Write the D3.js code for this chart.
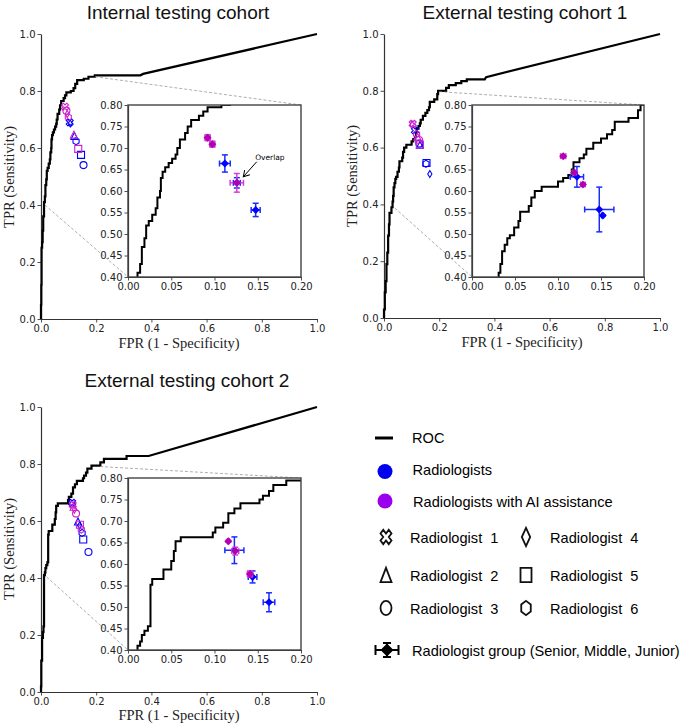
<!DOCTYPE html>
<head>
    <meta charset="utf-8">
    <title>ROC curves with radiologist performance</title>
    <style>
        body { margin: 0; background: #fff; }
        text { font-family: "Liberation Sans", Arial, sans-serif; }
        .tick text { font-family: "DejaVu Sans", sans-serif; font-size: 10px; fill: #222; }
        .tick line { stroke: #222; stroke-width: 0.8; }
        .domain { stroke: #333; stroke-width: 1.2; }
    </style>
</head>
<body>
<svg width="685" height="727"></svg>

<script src="https://d3js.org/d3.v7.min.js"></script>

<script>

// ---- data ----
var titles = ['Internal testing cohort', 'External testing cohort 1', 'External testing cohort 2'];

var mainTicks = [0, 0.2, 0.4, 0.6, 0.8, 1.0];
var insetXTicks = [0, 0.05, 0.10, 0.15, 0.20];
var insetYTicks = [0.40, 0.45, 0.50, 0.55, 0.60, 0.65, 0.70, 0.75, 0.80];

// ROC vertices [fpr, tpr]
var rocInternal = [[0,0],[0,0.05],[0.001,0.05],[0.001,0.12],[0.002,0.12],[0.002,0.25],[0.004,0.25],[0.004,0.27],
    [0.006,0.27],[0.006,0.31],[0.008,0.31],[0.008,0.36],[0.011,0.36],[0.011,0.41],[0.014,0.41],[0.014,0.43],
    [0.016,0.43],[0.016,0.47],[0.019,0.47],[0.019,0.49],[0.021,0.49],[0.021,0.52],[0.024,0.52],[0.024,0.53],
    [0.028,0.53],[0.028,0.545],[0.032,0.545],[0.032,0.56],[0.034,0.56],[0.034,0.585],[0.037,0.585],[0.037,0.60],
    [0.038,0.60],[0.038,0.63],[0.040,0.63],[0.040,0.645],[0.043,0.645],[0.043,0.655],[0.047,0.655],[0.047,0.665],
    [0.051,0.665],[0.051,0.675],[0.055,0.675],[0.055,0.685],[0.057,0.685],[0.057,0.70],[0.060,0.70],[0.060,0.72],
    [0.066,0.72],[0.066,0.735],[0.069,0.735],[0.069,0.75],[0.073,0.75],[0.073,0.765],[0.082,0.765],[0.082,0.775],
    [0.087,0.775],[0.087,0.785],[0.092,0.785],[0.092,0.795],[0.108,0.795],[0.108,0.80],[0.118,0.80],[0.118,0.81],
    [0.124,0.81],[0.124,0.825],[0.131,0.825],[0.131,0.838],[0.155,0.838],[0.155,0.843],[0.172,0.843],[0.172,0.85],
    [0.195,0.85],[0.195,0.855],[0.36,0.855],[0.37,0.86],[1,1]];

var rocExternal1 = [[0,0],[0,0.03],[0.003,0.03],[0.003,0.09],[0.006,0.09],[0.006,0.13],[0.009,0.13],[0.009,0.19],
    [0.012,0.19],[0.012,0.23],[0.015,0.23],[0.015,0.29],[0.018,0.29],[0.018,0.33],[0.020,0.33],[0.020,0.37],
    [0.027,0.37],[0.027,0.39],[0.031,0.39],[0.031,0.41],[0.033,0.41],[0.033,0.43],[0.035,0.43],[0.035,0.46],
    [0.038,0.46],[0.038,0.475],[0.041,0.475],[0.041,0.49],[0.044,0.49],[0.044,0.497],[0.049,0.497],[0.049,0.515],
    [0.054,0.515],[0.054,0.53],[0.056,0.53],[0.056,0.552],[0.066,0.552],[0.066,0.565],[0.069,0.565],[0.069,0.585],
    [0.073,0.585],[0.073,0.60],[0.081,0.60],[0.081,0.61],[0.100,0.61],[0.100,0.622],[0.106,0.622],[0.106,0.63],
    [0.112,0.63],[0.112,0.637],[0.116,0.637],[0.116,0.65],[0.118,0.65],[0.118,0.667],[0.125,0.667],[0.125,0.676],
    [0.130,0.676],[0.130,0.685],[0.133,0.685],[0.133,0.698],[0.141,0.698],[0.141,0.712],[0.150,0.712],[0.150,0.722],
    [0.157,0.722],[0.157,0.732],[0.163,0.732],[0.163,0.742],[0.166,0.742],[0.166,0.761],[0.182,0.761],[0.182,0.77],
    [0.193,0.77],[0.193,0.788],[0.196,0.788],[0.196,0.80],[0.225,0.80],[0.225,0.81],[0.235,0.81],[0.235,0.82],
    [0.26,0.82],[0.26,0.827],[0.28,0.827],[0.28,0.834],[0.30,0.834],[0.30,0.84],[0.365,0.84],[0.37,0.848],[1,1]];

var rocExternal2 = [[0,0],[0,0.02],[0.001,0.02],[0.001,0.11],[0.004,0.11],[0.004,0.19],[0.007,0.19],[0.007,0.21],
    [0.009,0.21],[0.009,0.23],[0.011,0.23],[0.011,0.41],[0.014,0.41],[0.014,0.42],[0.016,0.42],[0.016,0.435],
    [0.019,0.435],[0.019,0.445],[0.023,0.445],[0.023,0.455],[0.026,0.455],[0.026,0.552],[0.028,0.552],[0.028,0.565],
    [0.041,0.565],[0.041,0.587],[0.050,0.587],[0.050,0.607],[0.053,0.607],[0.053,0.63],[0.055,0.63],[0.055,0.653],
    [0.061,0.653],[0.061,0.662],[0.098,0.662],[0.098,0.673],[0.101,0.673],[0.101,0.685],[0.110,0.685],[0.110,0.696],
    [0.116,0.696],[0.116,0.718],[0.123,0.718],[0.123,0.729],[0.130,0.729],[0.130,0.741],[0.152,0.741],[0.152,0.75],
    [0.156,0.75],[0.156,0.759],[0.163,0.759],[0.163,0.77],[0.168,0.77],[0.168,0.784],[0.183,0.784],[0.183,0.794],
    [0.215,0.794],[0.215,0.806],[0.228,0.806],[0.228,0.818],[0.31,0.818],[0.31,0.828],[0.39,0.828],[1,1]];

// individual radiologists 1..6 [fpr, tpr]
var readersInternal   = [[0.104,0.690],[0.121,0.642],[0.154,0.540],[0.106,0.686],[0.145,0.576],[0.127,0.624]];
var readersInternalAI = [[0.087,0.745],[0.119,0.647],[0.092,0.731],[0.095,0.719],[0.135,0.597],[0.099,0.708]];
var readersExt1       = [[0.112,0.660],[0.130,0.610],[0.128,0.614],[0.166,0.507],[0.154,0.546],[0.152,0.543]];
var readersExt1AI     = [[0.104,0.684],[0.121,0.639],[0.127,0.627],[0.102,0.681],[0.130,0.611],[0.118,0.648]];
var readersExt2       = [[0.113,0.664],[0.134,0.598],[0.172,0.491],[0.140,0.584],[0.153,0.535],[0.149,0.558]];
var readersExt2AI     = [[0.115,0.657],[0.118,0.650],[0.127,0.626],[0.121,0.640],[0.141,0.587],[0.146,0.570]];

// radiologist groups (senior, middle, junior) [fpr, tpr, fpr error, tpr error]
var groupsInternal   = [[0.112,0.664,0.0062,0.020],[0.1258,0.619,0.004,0.012],[0.1476,0.556,0.0052,0.0155]];
var groupsInternalAI = [[0.092,0.724,0.003,0.007],[0.0975,0.709,0.003,0.007],[0.1258,0.619,0.0077,0.0217]];
var groupsExt1       = [[0.122,0.633,0.0077,0.024],[0.148,0.557,0.017,0.052],[0.152,0.543,0.001,0.002]];
var groupsExt1AI     = [[0.106,0.681,0.003,0.004],[0.119,0.643,0.002,0.004],[0.129,0.615,0.0025,0.004]];
var groupsExt2       = [[0.123,0.632,0.011,0.031],[0.144,0.570,0.005,0.014],[0.163,0.511,0.0067,0.022]];
var groupsExt2AI     = [[0.116,0.653,0.001,0.002],[0.124,0.630,0.004,0.009],[0.141,0.577,0.003,0.007]];

var readerNames  = ['Radiologist  1', 'Radiologist  2', 'Radiologist  3', 'Radiologist  4', 'Radiologist  5', 'Radiologist  6'];
var readerShapes = ['x', 'triangle', 'circle', 'diamond', 'square', 'hexagon'];

// ---- layout ----
var panels = [
    { title: titles[0], roc: rocInternal, readers: readersInternal, readersAI: readersInternalAI,
      groups: groupsInternal, groupsAI: groupsInternalAI,
      box: {l: 41, r: 317, t: 34, b: 319}, inset: {l: 128, r: 301, t: 105, b: 277},
      titlePos: [178, 18.5], xlabPos: [179, 348], ylabPos: [14, 177],
      connect: [[0.196, 0.85, 'tr'], [0.014, 0.40, 'bl']], note: true },
    { title: titles[1], roc: rocExternal1, readers: readersExt1, readersAI: readersExt1AI,
      groups: groupsExt1, groupsAI: groupsExt1AI,
      box: {l: 384, r: 660, t: 34, b: 318}, inset: {l: 472, r: 644, t: 105, b: 277},
      titlePos: [525, 18.5], xlabPos: [522, 347], ylabPos: [357, 176],
      connect: [[0.2, 0.797, 'tr'], [0.039, 0.387, 'bl']] },
    { title: titles[2], roc: rocExternal2, readers: readersExt2, readersAI: readersExt2AI,
      groups: groupsExt2, groupsAI: groupsExt2AI,
      box: {l: 41, r: 317, t: 407, b: 692}, inset: {l: 128, r: 301, t: 478, b: 650},
      titlePos: [187, 387], xlabPos: [179, 720], ylabPos: [14, 549],
      connect: [[0.214, 0.791, 'tr'], [0.02, 0.404, 'bl']] }
];

var blue = '#0000ff', blueBar = '#1a2bff';
var magenta = '#cc22cc', magentaDot = '#b000b0', magentaBar = '#d83cd8';

var svg = d3.select('svg');
svg.append('rect').attr('width', 685).attr('height', 727).attr('fill', '#fff');

var defs = svg.append('defs');
defs.append('marker')
    .attr('id', 'arrowhead')
    .attr('viewBox', '-8 -5 10 10')
    .attr('markerWidth', 10).attr('markerHeight', 10)
    .attr('markerUnits', 'userSpaceOnUse')
    .attr('orient', 'auto')
  .append('path')
    .attr('d', 'M-6,-3.5L0,0L-6,3.5')
    .attr('fill', 'none').attr('stroke', '#000').attr('stroke-width', 1);

// marker outline, s = marker size in px
function shapePath(type, s) {
    var h = s / 2, pts;
    if (type === 'circle') return d3.symbol(d3.symbolCircle, Math.PI * h * h)();
    if (type === 'x') {
        pts = [[-1,-2],[0,-1],[1,-2],[2,-1],[1,0],[2,1],[1,2],[0,1],[-1,2],[-2,1],[-1,0],[-2,-1]]
            .map(p => [p[0] * h / 2, p[1] * h / 2]);
    } else if (type === 'triangle') {
        pts = [[0,-h],[h,h],[-h,h]];
    } else if (type === 'diamond') {
        pts = [[0,-h],[0.6*h,0],[0,h],[-0.6*h,0]];
    } else if (type === 'square') {
        pts = [[-h,-h],[h,-h],[h,h],[-h,h]];
    } else if (type === 'hexagon') {
        pts = d3.range(6).map(i => {
            var a = (-90 + 60 * i) * Math.PI / 180;
            return [h * Math.cos(a), h * Math.sin(a)];
        });
    } else if (type === 'bigdiamond') {
        pts = [[0,-h],[h,0],[0,h],[-h,0]];
    }
    return 'M' + pts.join('L') + 'Z';
}

function drawGroups(g, data, xs, ys, dotCol, barCol) {
    var grp = g.selectAll(null).data(data).join('g');
    var cap = 3;
    grp.each(function(d) {
        var e = d3.select(this);
        var cx = xs(d[0]), cy = ys(d[1]);
        var xa = xs(d[0] - d[2]), xb = xs(d[0] + d[2]);
        var ya = ys(d[1] - d[3]), yb = ys(d[1] + d[3]);
        var segs = [[xa, cy, xb, cy], [cx, ya, cx, yb],
                    [xa, cy - cap, xa, cy + cap], [xb, cy - cap, xb, cy + cap],
                    [cx - cap, ya, cx + cap, ya], [cx - cap, yb, cx + cap, yb]];
        e.selectAll('line').data(segs).join('line')
            .attr('x1', s => s[0]).attr('y1', s => s[1])
            .attr('x2', s => s[2]).attr('y2', s => s[3])
            .attr('stroke', barCol).attr('stroke-width', 1.5);
        e.append('path')
            .attr('d', shapePath('bigdiamond', 8))
            .attr('transform', `translate(${cx},${cy})`)
            .attr('fill', dotCol);
    });
}

panels.forEach((p, pi) => {
    var g = svg.append('g');
    var x = d3.scaleLinear().domain([0, 1]).range([p.box.l, p.box.r]);
    var y = d3.scaleLinear().domain([0, 1]).range([p.box.b, p.box.t]);

    g.append('g')
        .attr('transform', `translate(0,${p.box.b})`)
        .call(d3.axisBottom(x).tickValues(mainTicks).tickFormat(d3.format('.1f'))
            .tickSize(3.5).tickSizeOuter(0).tickPadding(2));
    g.append('g')
        .attr('transform', `translate(${p.box.l},0)`)
        .call(d3.axisLeft(y).tickValues(mainTicks).tickFormat(d3.format('.1f'))
            .tickSize(3.5).tickSizeOuter(0).tickPadding(2));

    // titles and axis labels
    g.append('text')
        .attr('x', p.titlePos[0]).attr('y', p.titlePos[1])
        .attr('text-anchor', 'middle').attr('font-size', 19).attr('fill', '#111')
        .text(p.title);
    g.append('text')
        .attr('x', p.xlabPos[0]).attr('y', p.xlabPos[1])
        .attr('text-anchor', 'middle').attr('font-size', 14.5).attr('fill', '#222')
        .style('font-family', '"Liberation Serif", "Times New Roman", serif')
        .text('FPR (1 - Specificity)');
    g.append('text')
        .attr('transform', `translate(${p.ylabPos[0]},${p.ylabPos[1]}) rotate(-90)`)
        .attr('text-anchor', 'middle').attr('font-size', 14.5).attr('fill', '#222')
        .style('font-family', '"Liberation Serif", "Times New Roman", serif')
        .text('TPR (Sensitivity)');

    // ROC in main axes
    var line = d3.line().x(d => x(d[0])).y(d => y(d[1]));
    g.append('path').datum(p.roc)
        .attr('d', line)
        .attr('fill', 'none').attr('stroke', '#000').attr('stroke-width', 2.2)
        .attr('stroke-linejoin', 'miter');

    // zoom connectors
    p.connect.forEach(c => {
        var tx = c[2] === 'tr' ? p.inset.r : p.inset.l;
        var ty = c[2] === 'tr' ? p.inset.t : p.inset.b;
        g.append('line')
            .attr('x1', x(c[0])).attr('y1', y(c[1]))
            .attr('x2', tx).attr('y2', ty)
            .attr('stroke', '#999').attr('stroke-width', 0.8)
            .attr('stroke-dasharray', '3,2');
    });

    // individual radiologists
    [[p.readers, blue], [p.readersAI, magenta]].forEach(set => {
        g.selectAll(null).data(set[0]).join('path')
            .attr('d', (d, i) => shapePath(readerShapes[i], 7))
            .attr('transform', d => `translate(${x(d[0])},${y(d[1])})`)
            .attr('fill', 'none').attr('stroke', set[1]).attr('stroke-width', 1.1);
    });

    // inset
    var xi = d3.scaleLinear().domain([0, 0.2]).range([p.inset.l, p.inset.r]);
    var yi = d3.scaleLinear().domain([0.4, 0.8]).range([p.inset.b, p.inset.t]);
    var ig = g.append('g');
    ig.append('rect')
        .attr('x', p.inset.l).attr('y', p.inset.t)
        .attr('width', p.inset.r - p.inset.l).attr('height', p.inset.b - p.inset.t)
        .attr('fill', '#fff');
    defs.append('clipPath').attr('id', 'clip' + pi)
      .append('rect')
        .attr('x', p.inset.l).attr('y', p.inset.t)
        .attr('width', p.inset.r - p.inset.l).attr('height', p.inset.b - p.inset.t);
    ig.append('path').datum(p.roc)
        .attr('clip-path', `url(#clip${pi})`)
        .attr('d', d3.line().x(d => xi(d[0])).y(d => yi(d[1])))
        .attr('fill', 'none').attr('stroke', '#000').attr('stroke-width', 2);

    drawGroups(ig, p.groups, xi, yi, blue, blueBar);
    drawGroups(ig, p.groupsAI, xi, yi, magentaDot, magentaBar);

    ig.append('g')
        .attr('transform', `translate(0,${p.inset.b})`)
        .call(d3.axisBottom(xi).tickValues(insetXTicks).tickFormat(d3.format('.2f'))
            .tickSize(3.5).tickSizeOuter(0).tickPadding(2));
    ig.append('g')
        .attr('transform', `translate(${p.inset.l},0)`)
        .call(d3.axisLeft(yi).tickValues(insetYTicks).tickFormat(d3.format('.2f'))
            .tickSize(3.5).tickSizeOuter(0).tickPadding(2));
    ig.append('rect')
        .attr('x', p.inset.l).attr('y', p.inset.t)
        .attr('width', p.inset.r - p.inset.l).attr('height', p.inset.b - p.inset.t)
        .attr('fill', 'none').attr('stroke', '#444').attr('stroke-width', 1.4);

    if (p.note) {
        ig.append('line')
            .attr('x1', xi(0.1488)).attr('y1', yi(0.668))
            .attr('x2', xi(0.1333)).attr('y2', yi(0.633))
            .attr('stroke', '#000').attr('stroke-width', 1)
            .attr('marker-end', 'url(#arrowhead)');
        ig.append('text')
            .attr('x', xi(0.147)).attr('y', yi(0.678)).attr('dy', '0.35em')
            .attr('font-size', 7.5).attr('fill', '#000')
            .style('font-family', '"DejaVu Sans", sans-serif')
            .text('Overlap');
    }
});

// ---- legend ----
var lg = svg.append('g');
var legendFont = 14.6;

lg.append('line').attr('x1', 375).attr('x2', 393).attr('y1', 438).attr('y2', 438)
    .attr('stroke', '#000').attr('stroke-width', 3);
lg.append('text').attr('x', 412).attr('y', 443).attr('font-size', legendFont).text('ROC');

lg.append('circle').attr('cx', 385).attr('cy', 471.5).attr('r', 7.5).attr('fill', '#0000ee');
lg.append('text').attr('x', 412.5).attr('y', 475).attr('font-size', legendFont).text('Radiologists');

lg.append('circle').attr('cx', 385).attr('cy', 501).attr('r', 7.5).attr('fill', '#9a00ee');
lg.append('text').attr('x', 413).attr('y', 507).attr('font-size', legendFont).text('Radiologists with AI assistance');

var rowY = [537, 575, 608];
readerNames.forEach((name, i) => {
    var col = Math.floor(i / 3), row = i % 3;
    var mx = col === 0 ? 386 : 526, tx = col === 0 ? 410 : 550;
    lg.append('path')
        .attr('d', shapePath(readerShapes[i], readerShapes[i] === 'diamond' ? 14 : 11))
        .attr('transform', `translate(${mx},${rowY[row]}) scale(1,1.3)`)
        .attr('fill', 'none').attr('stroke', '#111').attr('stroke-width', 1.8)
        .attr('vector-effect', 'non-scaling-stroke');
    lg.append('text')
        .attr('x', tx).attr('y', rowY[row] + 5.5)
        .attr('font-size', legendFont).style('white-space', 'pre')
        .text(name);
});

// group legend marker
var gx = 387, gy = 650;
[[gx - 11.5, gy, gx + 11.5, gy], [gx, gy - 7, gx, gy + 7],
 [gx - 11.5, gy - 5, gx - 11.5, gy + 5], [gx + 11.5, gy - 5, gx + 11.5, gy + 5],
 [gx - 4, gy - 7, gx + 4, gy - 7], [gx - 4, gy + 7, gx + 4, gy + 7]].forEach(s => {
    lg.append('line').attr('x1', s[0]).attr('y1', s[1]).attr('x2', s[2]).attr('y2', s[3])
        .attr('stroke', '#000').attr('stroke-width', 2);
});
lg.append('path').attr('d', shapePath('bigdiamond', 13))
    .attr('transform', `translate(${gx},${gy})`).attr('fill', '#000');
lg.append('text').attr('x', 412).attr('y', 656).attr('font-size', legendFont)
    .text('Radiologist group (Senior, Middle, Junior)');

</script>
</body>
